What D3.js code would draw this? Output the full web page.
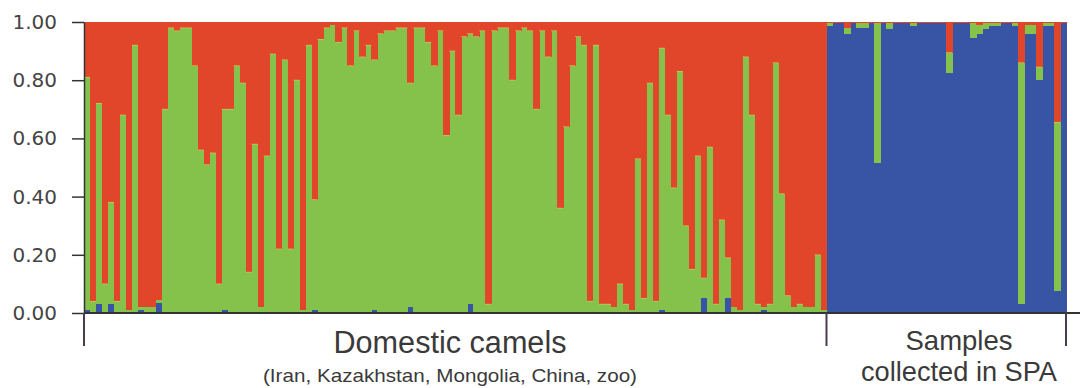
<!DOCTYPE html>
<html>
<head>
<meta charset="utf-8">
<script src="https://cdn.jsdelivr.net/npm/d3@7"></script>
<style>
  body { margin: 0; background: #fff; }
  .label { font-family: "Liberation Sans Narrow", "Liberation Sans", Arial, sans-serif; fill: #3a3a3a; }
</style>
</head>
<body>
<svg id="chart" width="1092" height="388"></svg>
<script>
// ancestry proportions per individual (stack order bottom -> top: blue, green, red)
var domesticGreen = [
  0.80, 0.04, 0.69, 0.10, 0.35, 0.04, 0.68, 0.01, 0.92, 0.01, 0.02, 0.02, 0.01, 0.70, 0.98, 0.97, 0.98, 0.98, 0.85, 0.56, 0.51, 0.55, 0.10, 0.69, 0.70,
  0.85, 0.79, 0.14, 0.58, 0.02, 0.54, 0.89, 0.22, 0.87, 0.22, 0.80, 0.01, 0.92, 0.38, 0.94, 0.98, 0.99, 0.93, 0.98, 0.85, 0.97, 0.88, 0.92, 0.86, 0.96,
  0.97, 0.97, 0.98, 0.98, 0.77, 0.98, 0.98, 0.93, 0.85, 0.97, 0.61, 0.90, 0.68, 0.95, 0.93, 0.95, 0.97, 0.03, 0.97, 0.98, 0.98, 0.80, 0.97, 0.98, 0.97,
  0.70, 0.97, 0.88, 0.97, 0.36, 0.64, 0.85, 0.95, 0.92, 0.04, 0.92, 0.03, 0.03, 0.02, 0.10, 0.03, 0.01, 0.53, 0.05, 0.79, 0.04, 0.90, 0.68, 0.43, 0.83,
  0.30, 0.15, 0.54, 0.07, 0.57, 0.03, 0.32, 0.14, 0.02, 0.01, 0.88, 0.68, 0.03, 0.01, 0.03, 0.86, 0.41, 0.06, 0.02, 0.03, 0.02, 0.02, 0.20, 0.01
];
var domesticBlue = [
  0.01, 0, 0.03, 0, 0.03, 0, 0, 0, 0, 0.01, 0, 0, 0.035, 0, 0, 0, 0, 0, 0, 0, 0, 0, 0, 0.01, 0,
  0, 0, 0, 0, 0, 0, 0, 0, 0, 0, 0, 0, 0, 0.01, 0, 0, 0, 0, 0, 0, 0, 0, 0, 0.01, 0,
  0, 0, 0, 0, 0.02, 0, 0, 0, 0, 0, 0, 0, 0, 0, 0.03, 0, 0, 0, 0, 0, 0, 0, 0, 0, 0,
  0, 0, 0, 0, 0, 0, 0, 0, 0, 0, 0, 0, 0, 0, 0, 0, 0, 0, 0, 0, 0, 0.01, 0, 0, 0,
  0, 0, 0, 0.05, 0, 0, 0, 0.05, 0, 0, 0, 0, 0, 0.01, 0, 0, 0, 0, 0, 0, 0, 0, 0, 0
];
var spaGreen = [
  0.01, 0, 0, 0.02, 0, 0.015, 0.015, 0, 0.48, 0, 0.02, 0, 0, 0, 0.01, 0, 0, 0, 0, 0,
  0.07, 0, 0, 0, 0.05, 0.03, 0.02, 0.01, 0.01, 0, 0, 0.01, 0.83, 0.03, 0.03, 0.045, 0.01, 0.01, 0.58, 0
];
var spaRed = [
  0.005, 0.005, 0.005, 0.02, 0.005, 0.005, 0.005, 0.005, 0.005, 0.005, 0.005, 0.005, 0.005, 0.005, 0.005, 0.005, 0.005, 0.005, 0.005, 0.005,
  0.105, 0.005, 0.005, 0.005, 0.005, 0.01, 0.005, 0.005, 0.005, 0.005, 0.005, 0.005, 0.14, 0.01, 0.01, 0.155, 0.005, 0.005, 0.345, 0.005
];
var groupLabels = ["Domestic camels", "Samples"];
var yTicks = [0, 0.2, 0.4, 0.6, 0.8, 1.0];

var keys = ["blue", "green", "red"];
var colors = { blue: "#3755a4", green: "#84c24b", red: "#e2462a" };

var samples = [];
domesticGreen.forEach((g, i) => {
  var b = domesticBlue[i];
  samples.push({ blue: b, green: g, red: Math.max(0, 1 - b - g) });
});
spaGreen.forEach((g, i) => {
  var r = spaRed[i];
  samples.push({ blue: Math.max(0, 1 - g - r), green: g, red: r });
});
var nDomestic = domesticGreen.length;

var svg = d3.select("#chart");

var x = d3.scaleBand()
  .domain(d3.range(samples.length))
  .range([84, 1066])
  .padding(0);

var y = d3.scaleLinear()
  .domain([0, 1])
  .range([313, 22]);

var series = d3.stack().keys(keys)(samples);

svg.append("g")
  .attr("shape-rendering", "crispEdges")
  .selectAll("g")
  .data(series)
  .enter()
  .append("g")
  .attr("fill", d => colors[d.key])
  .selectAll("rect")
  .data(d => d.map((v, i) => ({ v: v, i: i, key: d.key })))
  .enter()
  .append("rect")
  .attr("x", d => x(d.i))
  .attr("width", x.bandwidth() + 0.5)
  .attr("y", d => y(d.v[1]))
  .attr("height", d => Math.max(0, y(d.v[0]) - y(d.v[1])));

// thin light edge where green meets red, as in the original plot
svg.append("g")
  .selectAll("line")
  .data(samples.map((s, i) => ({ s: s, i: i })).filter(d => d.s.green > 0.02 && d.s.red > 0.02))
  .enter()
  .append("line")
  .attr("x1", d => x(d.i)).attr("x2", d => x(d.i) + x.bandwidth())
  .attr("y1", d => y(d.s.blue + d.s.green)).attr("y2", d => y(d.s.blue + d.s.green))
  .attr("stroke", "#d8c35e").attr("stroke-width", 1).attr("stroke-opacity", 0.7);

// y axis
var yAxis = d3.axisLeft(y)
  .tickValues(yTicks)
  .tickFormat(d3.format(".2f"))
  .tickSize(12)
  .tickSizeOuter(0)
  .tickPadding(15);

var axisG = svg.append("g")
  .attr("transform", "translate(84,0)")
  .call(yAxis);
axisG.select(".domain").attr("stroke", "#333").attr("stroke-width", 1.5);
axisG.selectAll(".tick line").attr("stroke", "#333").attr("stroke-width", 1.5);
axisG.selectAll(".tick text")
  .style("font-family", "DejaVu Sans, sans-serif")
  .style("font-size", "20px")
  .style("fill", "#444");

// baseline and group separators
svg.append("line")
  .attr("x1", 84).attr("x2", 1080)
  .attr("y1", y(0)).attr("y2", y(0))
  .attr("stroke", "#333").attr("stroke-width", 2);

var seps = [x(0), x(nDomestic), x.range()[1]];
svg.selectAll("line.sep")
  .data(seps)
  .enter()
  .append("line")
  .attr("class", "sep")
  .attr("x1", d => d).attr("x2", d => d)
  .attr("y1", y(0)).attr("y2", 346)
  .attr("stroke", "#4b3b4f").attr("stroke-width", 2);

// group labels
var domMid = 450;
var spaMid = 959;
svg.append("text").attr("class", "label")
  .attr("x", domMid).attr("y", 353)
  .attr("text-anchor", "middle")
  .attr("font-size", 31)
  .attr("textLength", 233).attr("lengthAdjust", "spacingAndGlyphs")
  .text(groupLabels[0]);
svg.append("text").attr("class", "label")
  .attr("x", domMid).attr("y", 382)
  .attr("text-anchor", "middle")
  .attr("font-size", 19)
  .attr("textLength", 374).attr("lengthAdjust", "spacingAndGlyphs")
  .text("(Iran, Kazakhstan, Mongolia, China, zoo)");
svg.append("text").attr("class", "label")
  .attr("x", spaMid).attr("y", 350)
  .attr("text-anchor", "middle")
  .attr("font-size", 28)
  .attr("textLength", 107).attr("lengthAdjust", "spacingAndGlyphs")
  .text(groupLabels[1]);
svg.append("text").attr("class", "label")
  .attr("x", spaMid).attr("y", 381)
  .attr("text-anchor", "middle")
  .attr("font-size", 28)
  .attr("textLength", 196).attr("lengthAdjust", "spacingAndGlyphs")
  .text("collected in SPA");
</script>
</body>
</html>
